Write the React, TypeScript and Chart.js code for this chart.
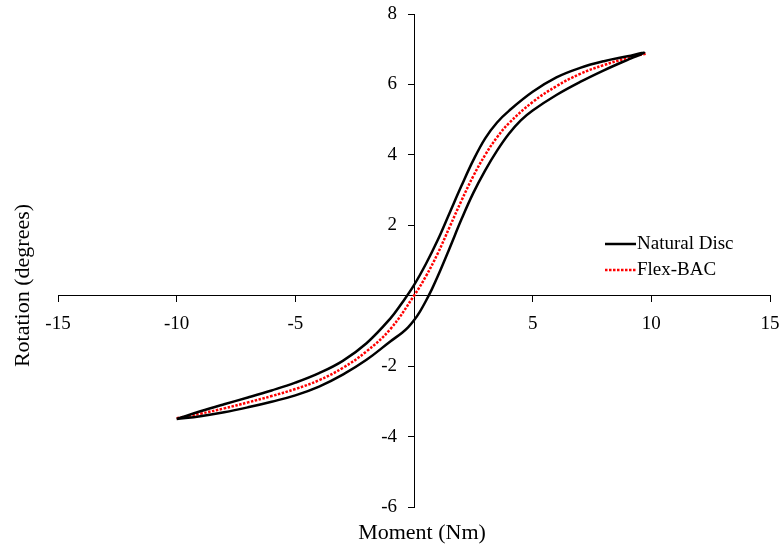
import React, { useEffect, useRef } from 'react';
import { Chart, registerables } from 'chart.js';

Chart.register(...registerables);

// Natural disc hysteresis loop: loading branch (lower/right) and unloading branch (upper/left)
const naturalLoadX = [-10, -9, -8, -7, -6, -5, -4, -3, -2, -1, -0.5, -0.25, 0, 0.25, 0.5, 0.75, 1, 1.5, 2, 2.5, 3, 3.5, 4, 4.5, 5, 6, 7, 8, 9, 9.7];
const naturalLoadY = [-3.5, -3.42, -3.31, -3.17, -3.01, -2.83, -2.58, -2.24, -1.82, -1.3, -1.05, -0.9, -0.7, -0.45, -0.15, 0.18, 0.55, 1.35, 2.17, 2.92, 3.56, 4.12, 4.6, 4.98, 5.26, 5.7, 6.07, 6.4, 6.7, 6.9];
const naturalUnloadX = [9.7, 9, 8, 7, 6, 5, 4, 3.5, 3, 2.5, 2, 1.5, 1, 0.5, 0, -0.5, -1, -2, -3, -4, -5, -6, -7, -8, -9, -10];
const naturalUnloadY = [6.9, 6.8, 6.66, 6.47, 6.2, 5.79, 5.25, 4.92, 4.47, 3.85, 3.12, 2.35, 1.58, 0.9, 0.3, -0.2, -0.65, -1.35, -1.85, -2.2, -2.47, -2.69, -2.89, -3.08, -3.28, -3.5];

// Flex-BAC response curve
const flexX = [-10, -9, -8, -7, -6, -5, -4, -3, -2, -1, 0, 0.5, 1, 1.5, 2, 2.5, 3, 3.5, 4, 5, 6, 7, 8, 9, 9.8];
const flexY = [-3.48, -3.35, -3.2, -3.03, -2.85, -2.65, -2.4, -2.05, -1.58, -0.95, 0, 0.55, 1.2, 1.95, 2.7, 3.4, 4.0, 4.5, 4.9, 5.5, 5.95, 6.3, 6.55, 6.75, 6.88];

const seriesNames = ['Natural Disc', 'Flex-BAC'];
const xTitle = 'Moment (Nm)';
const yTitle = 'Rotation (degrees)';
const xRange = [-15, 15];
const yRange = [-6, 8];
const xStep = 5;
const yStep = 2;

const FONT = '"Liberation Serif", "Times New Roman", serif';

const toPoints = (xs: number[], ys: number[]) => xs.map((x, i) => ({ x, y: ys[i] }));

// Tick labels for axes that cross at the origin: x labels below the x axis,
// y labels to the left of the y axis, and no label at zero on either.
const crossedTickLabelsPlugin = {
  id: 'crossedTickLabels',
  afterDraw(chart: any) {
    const { ctx } = chart;
    const xs = chart.scales.x;
    const ys = chart.scales.y;
    const originX = xs.getPixelForValue(0);
    const originY = ys.getPixelForValue(0);
    ctx.save();
    ctx.fillStyle = '#000';
    ctx.font = `19px ${FONT}`;
    ctx.textBaseline = 'middle';
    ctx.textAlign = 'center';
    xs.ticks.forEach((t: any) => {
      if (t.value === 0) return;
      ctx.fillText(String(t.value), xs.getPixelForValue(t.value), originY + 28);
    });
    ctx.textAlign = 'right';
    ys.ticks.forEach((t: any) => {
      if (t.value === 0) return;
      ctx.fillText(String(t.value), originX - 17, ys.getPixelForValue(t.value));
    });
    ctx.restore();
  },
};

// Axis titles drawn at the outer edges of the plot, since both axes cross at zero
const axisTitlesPlugin = {
  id: 'axisTitles',
  afterDraw(chart: any) {
    const { ctx, chartArea } = chart;
    ctx.save();
    ctx.fillStyle = '#000';
    ctx.font = `22px ${FONT}`;
    ctx.textAlign = 'center';
    ctx.textBaseline = 'middle';
    ctx.fillText(xTitle, (chartArea.left + chartArea.right) / 2 + 8, chartArea.bottom + 26);
    ctx.translate(chartArea.left - 35, (chartArea.top + chartArea.bottom) / 2 + 25);
    ctx.rotate(-Math.PI / 2);
    ctx.fillText(yTitle, 0, 0);
    ctx.restore();
  },
};

// Legend placed inside the plot, to the right of the curves
const insideLegendPlugin = {
  id: 'insideLegend',
  afterDraw(chart: any) {
    const { ctx, chartArea } = chart;
    const x0 = chartArea.right - 165;
    const y0 = chartArea.top + 230;
    const rowGap = 26;
    ctx.save();
    ctx.font = `19px ${FONT}`;
    ctx.textAlign = 'left';
    ctx.textBaseline = 'middle';
    chart.data.datasets.forEach((ds: any, i: number) => {
      const y = y0 + i * rowGap;
      ctx.beginPath();
      ctx.strokeStyle = ds.borderColor;
      ctx.lineWidth = ds.borderWidth;
      ctx.setLineDash(ds.borderDash || []);
      ctx.moveTo(x0, y);
      ctx.lineTo(x0 + 31, y);
      ctx.stroke();
      ctx.setLineDash([]);
      ctx.fillStyle = '#000';
      ctx.fillText(ds.label, x0 + 32, y);
    });
    ctx.restore();
  },
};

export default function App() {
  const canvasRef = useRef<HTMLCanvasElement | null>(null);

  useEffect(() => {
    if (!canvasRef.current) return;
    const chart = new Chart(canvasRef.current, {
      type: 'scatter',
      data: {
        datasets: [
          {
            label: seriesNames[0],
            data: [...toPoints(naturalLoadX, naturalLoadY), ...toPoints(naturalUnloadX, naturalUnloadY).slice(1)],
            showLine: true,
            borderColor: '#000',
            borderWidth: 2.5,
            pointRadius: 0,
            tension: 0.4,
            fill: false,
          },
          {
            label: seriesNames[1],
            data: toPoints(flexX, flexY),
            showLine: true,
            borderColor: '#ff0000',
            borderWidth: 2.5,
            borderDash: [2.5, 1.5],
            pointRadius: 0,
            tension: 0.4,
            fill: false,
          },
        ],
      },
      options: {
        animation: false,
        responsive: true,
        maintainAspectRatio: false,
        layout: { padding: { left: 58, top: 14, right: 12, bottom: 41 } },
        plugins: {
          legend: { display: false },
          tooltip: { enabled: false },
        },
        scales: {
          x: {
            type: 'linear',
            position: { y: 0 },
            min: xRange[0],
            max: xRange[1],
            ticks: { stepSize: xStep, display: false },
            grid: { drawOnChartArea: false, drawTicks: true, tickLength: 6, color: '#000', lineWidth: 1 },
            border: { color: '#000', width: 1 },
          },
          y: {
            type: 'linear',
            position: { x: 0 },
            min: yRange[0],
            max: yRange[1],
            ticks: { stepSize: yStep, display: false },
            grid: { drawOnChartArea: false, drawTicks: true, tickLength: 6, color: '#000', lineWidth: 1 },
            border: { color: '#000', width: 1 },
          },
        },
      },
      plugins: [crossedTickLabelsPlugin, axisTitlesPlugin, insideLegendPlugin],
    });
    return () => chart.destroy();
  }, []);

  return (
    <div style={{ position: 'absolute', left: 0, top: 0, width: 782, height: 548, background: '#fff' }}>
      <canvas ref={canvasRef} />
    </div>
  );
}
